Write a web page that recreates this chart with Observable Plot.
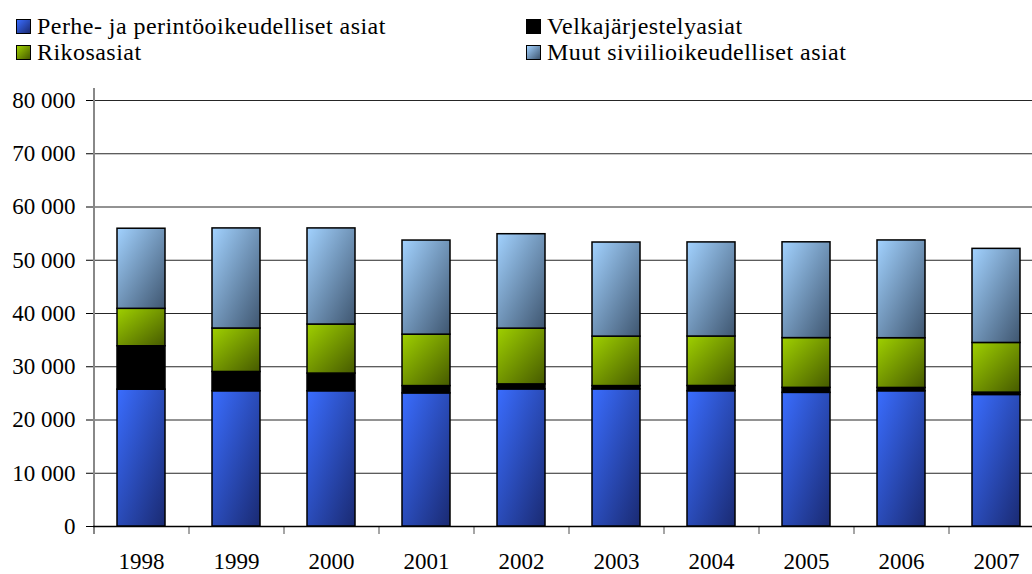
<!DOCTYPE html>
<html>
<head>
<meta charset="utf-8">
<script src="https://cdn.jsdelivr.net/npm/d3@7"></script>
<script src="https://cdn.jsdelivr.net/npm/@observablehq/plot@0.6"></script>
<style>
  html, body { margin: 0; padding: 0; background: #fff; }
  #wrap { width: 1032px; height: 574px; overflow: hidden; font-family: "Liberation Serif", "Times New Roman", serif; }
  #legend { position: relative; width: 1032px; height: 62px; }
  .item { position: absolute; font-size: 24px; line-height: 24px; letter-spacing: 0.45px; color: #000; white-space: nowrap; }
  .sw { position: absolute; width: 13px; height: 13px; border: 1px solid #000; }
  svg { display: block; }
</style>
</head>
<body>
<div id="wrap">
  <div id="legend"></div>
  <div id="chart"></div>
</div>
<script>
const years = ["1998","1999","2000","2001","2002","2003","2004","2005","2006","2007"];
const series = ["Perhe- ja perintöoikeudelliset asiat", "Velkajärjestelyasiat", "Rikosasiat", "Muut siviilioikeudelliset asiat"];
const perhe = [25700, 25400, 25400, 25000, 25750, 25750, 25400, 25100, 25400, 24700];
const velka = [8150, 3620, 3320, 1370, 940, 620, 990, 940, 620, 440];
const rikos = [7030, 8160, 9210, 9660, 10470, 9290, 9290, 9340, 9340, 9330];
const muut = [15040, 18800, 18050, 17670, 17730, 17670, 17670, 17990, 18360, 17670];
const yTicks = [0, 10000, 20000, 30000, 40000, 50000, 60000, 70000, 80000];

const values = [perhe, velka, rikos, muut];
const data = [];
years.forEach((yr, i) => {
  series.forEach((s, k) => data.push({year: yr, series: s, value: values[k][i]}));
});

const grads = [
  {id: "gPerhe", a: "#3a6dff", b: "#1a2a72"},
  {id: "gVelka", a: "#000000", b: "#000000"},
  {id: "gRikos", a: "#9fd000", b: "#465a00"},
  {id: "gMuut",  a: "#a2d2ff", b: "#3f5670"}
];

// legend
const legend = document.getElementById("legend");
const legendPos = [
  {s: 0, x: 16, y: 14}, {s: 2, x: 16, y: 40},
  {s: 1, x: 526, y: 14}, {s: 3, x: 526, y: 40}
];
legendPos.forEach(p => {
  const g = grads[p.s];
  const sw = document.createElement("div");
  sw.className = "sw";
  sw.style.left = p.x + "px";
  sw.style.top = (p.y + 5) + "px";
  sw.style.background = `linear-gradient(135deg, ${g.a}, ${g.b})`;
  legend.appendChild(sw);
  const t = document.createElement("div");
  t.className = "item";
  t.style.left = (p.x + 21) + "px";
  t.style.top = p.y + "px";
  t.textContent = series[p.s];
  legend.appendChild(t);
});

const half = 47.5;
const fmt = d => d3.format(",")(d).replace(/,/g, " ");

const svg = Plot.plot({
  width: 1032,
  height: 512,
  marginTop: 38,
  marginBottom: 48,
  marginLeft: 93,
  marginRight: -11,
  style: {fontFamily: "'Liberation Serif', 'Times New Roman', serif", fontSize: "23px", color: "#000", background: "#fff"},
  x: {domain: years, paddingInner: 0.5, paddingOuter: 0.25, label: null},
  y: {domain: [0, 80000], label: null},
  color: {domain: series, range: grads.map(g => `url(#${g.id})`)},
  marks: [
    Plot.gridY(yTicks, {stroke: "#000", strokeOpacity: 0.85, strokeWidth: 1}),
    Plot.axisY(yTicks, {tickSize: 7, tickPadding: 11, tickFormat: fmt, stroke: "#000", fontSize: "23px"}),
    Plot.axisX({tickSize: 0, tickPadding: 26, fontSize: "23px"}),
    Plot.ruleX(years, {x: d => d, dx: -half, insetTop: 426, insetBottom: -8, stroke: "#888", strokeWidth: 1.5}),
    Plot.ruleX([years[0]], {x: d => d, dx: -half, insetTop: -12, insetBottom: -8, stroke: "#888", strokeWidth: 2}),
    Plot.ruleY([0], {stroke: "#000", strokeWidth: 1.5}),
    Plot.barY(data, {x: "year", y: "value", fill: "series", stroke: "#000", strokeWidth: 1.5})
  ]
});

const defs = d3.select(svg).insert("defs", ":first-child");
grads.forEach(g => {
  const lg = defs.append("linearGradient").attr("id", g.id)
    .attr("x1", 0).attr("y1", 0).attr("x2", 1).attr("y2", 1);
  lg.append("stop").attr("offset", "0%").attr("stop-color", g.a);
  lg.append("stop").attr("offset", "100%").attr("stop-color", g.b);
});

document.getElementById("chart").appendChild(svg);
</script>
</body>
</html>
